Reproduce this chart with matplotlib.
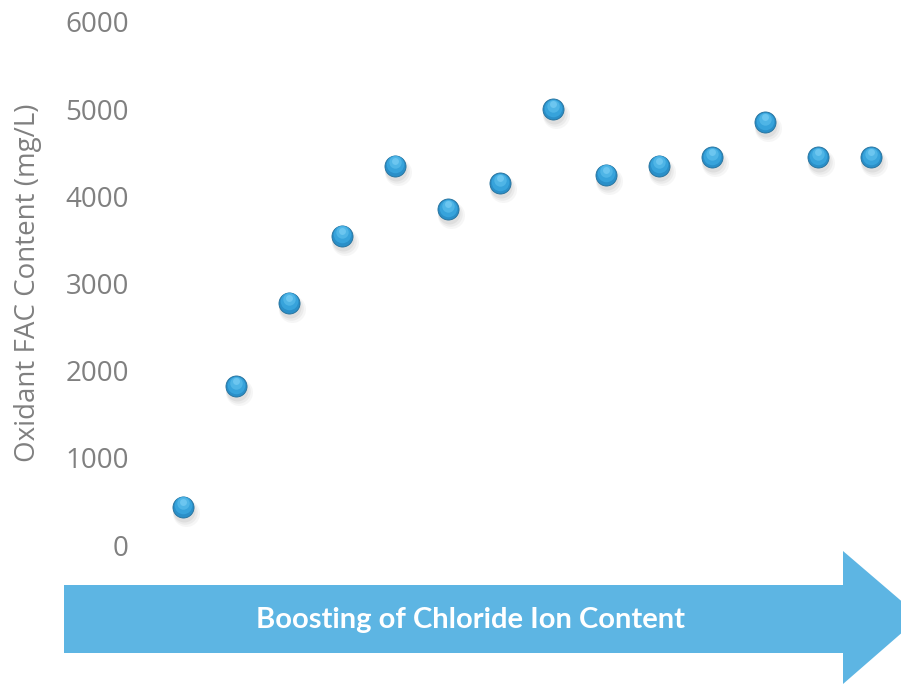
import matplotlib
matplotlib.use("Agg")
import matplotlib.pyplot as plt
import matplotlib.transforms as mtransforms
from matplotlib.patches import Polygon

# Data
samples = list(range(1, 15))
fac_content = [440, 1820, 2780, 3550, 4350, 3850, 4150, 5000, 4250, 4350, 4450, 4850, 4450, 4450]
y_ticks = [0, 1000, 2000, 3000, 4000, 5000, 6000]
y_label = "Oxidant FAC Content (mg/L)"
arrow_text = "Boosting of Chloride Ion Content"

W, H = 901, 684
fig = plt.figure(figsize=(W / 100, H / 100), dpi=100)
fig.patch.set_facecolor("white")

# axes: y from pixel 545 (0) to 22 (6000); x from pixel 140 to 901
left, right, top, bottom = 140, 901, 22, 545
ax = fig.add_axes([left / W, 1 - bottom / H, (right - left) / W, (bottom - top) / H])
ax.set_xlim(0.1875, 14.57)
ax.set_ylim(0, 6000)
ax.set_yticks(y_ticks)
ax.set_yticklabels([str(v) for v in y_ticks], fontsize=20, color="#808080",
                   fontfamily="Open Sans")
ax.set_xticks([])
ax.tick_params(axis="y", length=0, pad=8)
for s in ax.spines.values():
    s.set_visible(False)
ax.set_facecolor("none")

fig.text(28 / W, 1 - 283 / H, y_label, rotation=90, ha="center", va="center",
         fontsize=20, color="#808080", fontfamily="Open Sans")

# sphere-like markers
def off(dx, dy):
    return mtransforms.offset_copy(ax.transData, fig=fig, x=dx, y=dy, units="dots")

for i, (a, dx, dy) in enumerate([(0.05, 3, -6), (0.07, 2, -5), (0.09, 1, -4)]):
    ax.scatter(samples, fac_content, s=[380, 310, 250][i], color="#606060", alpha=a,
               linewidths=0, transform=off(dx, dy), zorder=2)
ax.scatter(samples, fac_content, s=230, color="#2A8FC8", edgecolors="#236F9A",
           linewidths=0.6, zorder=3)
ax.scatter(samples, fac_content, s=160, color="#37A3DB", linewidths=0,
           transform=off(0, 1.5), zorder=4)
ax.scatter(samples, fac_content, s=80, color="#4FB5E6", linewidths=0,
           transform=off(0, 3.5), zorder=5)
ax.scatter(samples, fac_content, s=25, color="#6CC6F0", linewidths=0,
           transform=off(0, 5), zorder=6)

# arrow at bottom (figure pixel coords)
arrow_pts = [(64, 585), (843, 585), (843, 551), (920, 617), (843, 684),
             (843, 653), (64, 653)]
poly = Polygon([(x / W, 1 - y / H) for x, y in arrow_pts], closed=True,
               transform=fig.transFigure, facecolor="#5DB5E3", edgecolor="none")
fig.patches.append(poly)
fig.text(470 / W, 1 - 620 / H, arrow_text, ha="center", va="center",
         fontsize=21, fontweight="bold", color="white", fontfamily="Lato")

fig.savefig("out.png", dpi=100)
